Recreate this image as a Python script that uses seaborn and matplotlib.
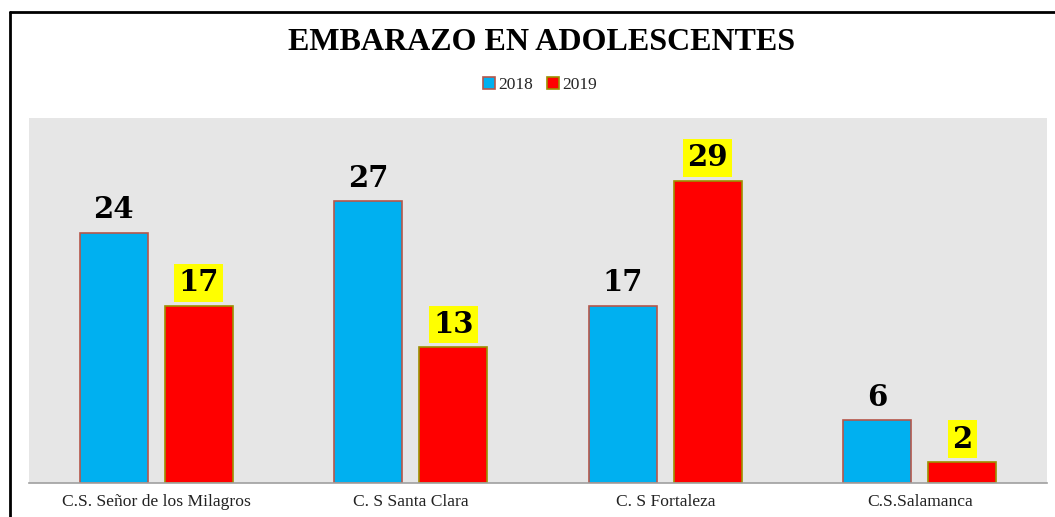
import pandas as pd
import seaborn as sns
import matplotlib.pyplot as plt
from matplotlib.lines import Line2D

# data
centros = ['C.S. Señor de los Milagros', 'C. S Santa Clara', 'C. S Fortaleza', 'C.S.Salamanca']
anios = ['2018', '2019']
casos_2018 = [24, 27, 17, 6]
casos_2019 = [17, 13, 29, 2]

df = pd.DataFrame({
    'centro': centros * 2,
    'anio': [anios[0]] * len(centros) + [anios[1]] * len(centros),
    'casos': casos_2018 + casos_2019,
})

sns.set_theme(style='white')
plt.rcParams['font.family'] = ['Liberation Serif', 'DejaVu Serif']

fig = plt.figure(figsize=(10.55, 5.17), dpi=100)
ax = fig.add_axes([29 / 1055, 34 / 517, 1018 / 1055, 365 / 517])
ax.set_facecolor('#e6e6e6')

palette = {'2018': '#00b0f0', '2019': '#ff0000'}
sns.barplot(data=df, x='centro', y='casos', hue='anio', palette=palette,
            width=0.667, gap=0.2, saturation=1, ax=ax, legend=False)

edge_colors = ['#b5574b', '#9c9000']
for cont, ec in zip(ax.containers, edge_colors):
    for bar in cont:
        bar.set_edgecolor(ec)
        bar.set_linewidth(1.2)

lbl_font = dict(fontsize=21, fontweight='bold', color='black', family='DejaVu Serif')
ax.bar_label(ax.containers[0], padding=6, **lbl_font)
ax.bar_label(ax.containers[1], padding=6, **lbl_font,
             bbox=dict(boxstyle='square,pad=0.15', fc='#ffff00', ec='none'))

ax.set_ylim(0, 35)
ax.set_xlim(-0.5, 3.5)
ax.set_xlabel('')
ax.set_ylabel('')
ax.set_yticks([])
ax.tick_params(axis='x', length=0, labelsize=12.6, pad=8, labelcolor='#222222')
for s in ['top', 'right', 'left']:
    ax.spines[s].set_visible(False)
ax.spines['bottom'].set_color('#a0a0a0')
ax.spines['bottom'].set_linewidth(1.2)

fig.text(0.513, 0.918, 'EMBARAZO EN ADOLESCENTES', ha='center', va='center',
         fontsize=23, fontweight='bold', color='black')

handles = [plt.Rectangle((0, 0), 1, 1, fc=palette[a], ec=ec, lw=1.2)
           for a, ec in zip(anios, edge_colors)]
fig.legend(handles, anios, loc='center', bbox_to_anchor=(0.512, 0.836), ncol=2,
           frameon=False, fontsize=12.5, handlelength=0.7, handleheight=0.7,
           handletextpad=0.2, columnspacing=0.8)

# outer frame (top and left edges)
x0, y0 = 10 / 1055, 1 - 12 / 517
fig.add_artist(Line2D([x0, 1.0], [y0, y0], color='black', lw=2, transform=fig.transFigure))
fig.add_artist(Line2D([x0, x0], [0.0, y0], color='black', lw=2, transform=fig.transFigure))

fig.savefig('out.png', dpi=100)
